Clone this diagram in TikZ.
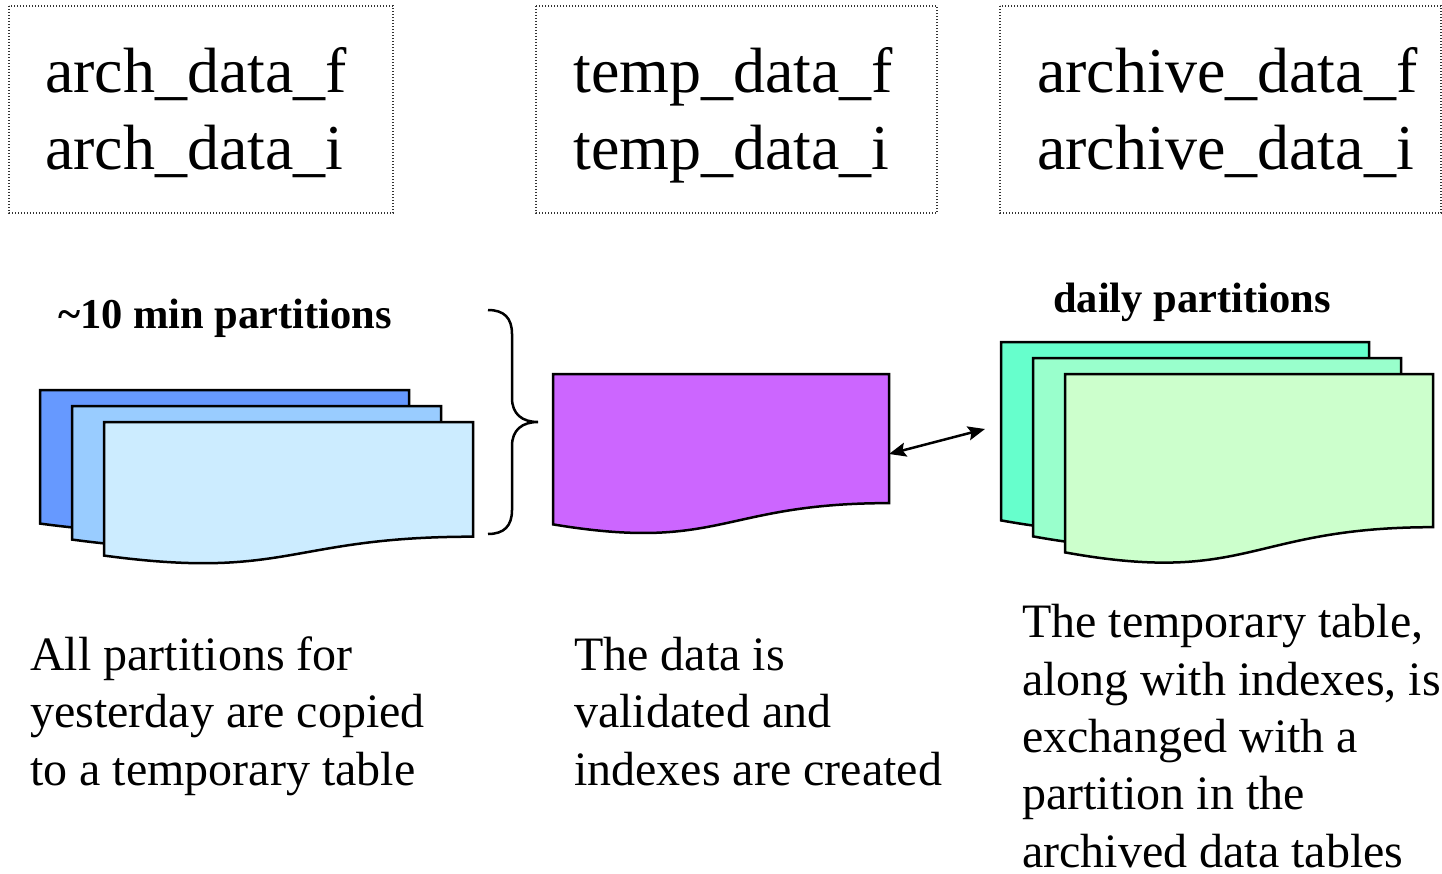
\documentclass[tikz,border=0pt]{standalone}
\usepackage{fontspec}
\setmainfont{Liberation Serif}
\usetikzlibrary{arrows.meta}

\definecolor{minBack}{HTML}{6699FF}
\definecolor{minMid}{HTML}{99CCFF}
\definecolor{minFront}{HTML}{CCECFF}
\definecolor{tempFill}{HTML}{CC66FF}
\definecolor{dayBack}{HTML}{66FFCC}
\definecolor{dayMid}{HTML}{99FFCC}
\definecolor{dayFront}{HTML}{CCFFCC}

% document sheet with a wavy lower edge:
% #1 name, #2 left, #3 top, #4 width, #5 height, #6 fill colour
\newcommand\docsheet[6]{%
  \path[sheet, fill=#6] (#2,#3) -- ({#2+#4},#3) -- ({#2+#4},{#3+0.802*#5})
    .. controls ({#2+0.5*#4},{#3+0.802*#5}) and ({#2+0.5*#4},{#3+1.108*#5}) ..
    ({#2},{#3+0.934*#5}) -- cycle;
  \coordinate (#1-nw) at (#2,#3);
}

\begin{document}
\begin{tikzpicture}[x=1pt,y=-1pt,
  sheet/.style={draw=black, line width=2.5pt, line join=miter},
  dotbox/.style={draw=black!80, line width=1.3pt, dash pattern=on 1.3pt off 1.7pt},
  boxtext/.style={anchor=base west, inner sep=0pt, align=left,
    font=\fontsize{64}{77}\selectfont},
  caption/.style={anchor=base west, inner sep=0pt, align=left,
    font=\fontsize{48}{57.3}\selectfont},
  heading/.style={anchor=base west, inner sep=0pt,
    font=\fontsize{42.5}{48}\selectfont\bfseries},
  brace/.style={draw=black, line width=2.5pt},
  xchg/.style={draw=black, line width=2.5pt,
    {Stealth[length=17pt,width=14pt,inset=3pt]}-{Stealth[length=17pt,width=14pt,inset=3pt]}}]
\useasboundingbox (0,0) rectangle (1442,874);

% table names (node base = baseline of the last line)
\draw[dotbox] (9,6) rectangle (393,213);
\draw[dotbox] (536,6) rectangle (937,213);
\draw[dotbox] (1000,6) rectangle (1441,213);
\node[boxtext] (archnames) at (45,170) {arch\_data\_f\\arch\_data\_i};
\node[boxtext] (tempnames) at (573,170) {temp\_data\_f\\temp\_data\_i};
\node[boxtext] (archivenames) at (1037,170) {archive\_data\_f\\archive\_data\_i};

% ten-minute partitions
\node[heading] (minhead) at (58,329) {\textasciitilde10 min partitions};
\docsheet{minA}{40}{390}{369}{143}{minBack}
\docsheet{minB}{72}{406}{369}{143}{minMid}
\docsheet{minC}{104}{422}{369}{143}{minFront}

% brace grouping the partitions
\draw[brace] (488,310) .. controls (504,310) and (512,318) .. (512,334)
  -- (512,398) .. controls (512,414) and (522,422) .. (538,422)
  .. controls (522,422) and (512,430) .. (512,446)
  -- (512,510) .. controls (512,526) and (504,534) .. (488,534);

% temporary table
\docsheet{temp}{553}{374}{336}{161}{tempFill}
\coordinate (tempE) at (889,454);

% daily partitions
\node[heading] (dayhead) at (1053,313) {daily partitions};
\docsheet{dayA}{1001}{342}{368}{191}{dayBack}
\docsheet{dayB}{1033}{358}{368}{191}{dayMid}
\docsheet{dayC}{1065}{374}{368}{191}{dayFront}
\coordinate (dayW) at (985,429);

% partition exchange
\draw[xchg] (tempE) -- (dayW);

% step descriptions (node base = baseline of the last line)
\node[caption] (stepcopy) at (30,785)
  {All partitions for\\yesterday are copied\\to a temporary table};
\node[caption] (stepindex) at (574,785)
  {The data is\\validated and\\indexes are created};
\node[caption] (stepswap) at (1022,867)
  {The temporary table,\\along with indexes, is\\exchanged with a\\partition in the\\archived data tables};
\end{tikzpicture}
\end{document}
